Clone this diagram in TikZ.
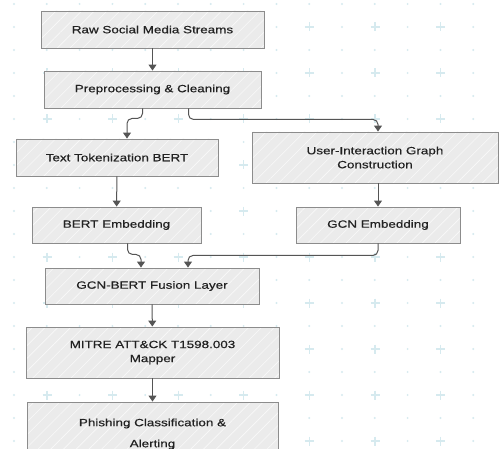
\documentclass[tikz,border=0pt]{standalone}
\usepackage{fontspec}
\setmainfont{Liberation Sans}[FakeStretch=1.28, FakeBold=0.5]
\usetikzlibrary{arrows.meta,patterns.meta}

\definecolor{boxfill}{HTML}{EBEBEB}
\definecolor{boxline}{HTML}{8C8C8C}
\definecolor{hatch}{HTML}{F9F9F9}
\definecolor{arrowgray}{HTML}{555555}
\definecolor{gridblue}{HTML}{D6EAEF}
\definecolor{inktext}{HTML}{222222}

\tikzset{
  stage/.style={draw=boxline, line width=0.9pt, preaction={fill=boxfill},
    pattern={Lines[angle=45,distance=9pt,line width=0.6pt]}, pattern color=hatch,
    align=center, inner sep=2pt, text=inktext,
    font=\fontsize{10.5}{14}\selectfont},
  flow/.style={draw=arrowgray, line width=1pt, rounded corners=5pt,
    -{Triangle[length=6pt,width=8pt]}},
}

\begin{document}
\begin{tikzpicture}[x=1pt, y=-1pt]
\clip (0,0) rectangle (500,449);
\fill[white] (0,0) rectangle (500,449);

% dot grid
\foreach \j in {0,...,19}
  \foreach \i in {0,...,14}
    \fill[gridblue] (14+32.8*\i, 4+23*\j) circle (1.1pt);
% plus marks
\foreach \j in {0,...,9}
  \foreach \i in {0,...,6}
    \draw[gridblue, line width=1.2pt] (47+65.6*\i, 27+46*\j) ++(-4.5,0) -- ++(9,0) ++(-4.5,-4.5) -- ++(0,9);

% stages
\node[stage, minimum width=223pt, minimum height=37pt] (raw) at (152.5,29.5) {Raw Social Media Streams};
\node[stage, minimum width=217pt, minimum height=37pt] (prep) at (152.5,89.5) {Preprocessing \& Cleaning};
\node[stage, minimum width=202pt, minimum height=37pt] (tok) at (117,157.5) {Text Tokenization BERT};
\node[stage, minimum width=246pt, minimum height=51pt] (graph) at (375,157.5) {User-Interaction Graph\\Construction};
\node[stage, minimum width=169pt, minimum height=36pt] (bert) at (116.5,225) {BERT Embedding};
\node[stage, minimum width=164pt, minimum height=36pt] (gcn) at (378,225) {GCN Embedding};
\node[stage, minimum width=214pt, minimum height=36pt] (fusion) at (152,286) {GCN-BERT Fusion Layer};
\node[stage, minimum width=253pt, minimum height=51pt] (mitre) at (152.5,352.5) {MITRE ATT\&CK T1598.003\\Mapper};
\node[stage, minimum width=251pt, minimum height=64pt] (alert) at (152.5,434) {Phishing Classification \&\\[7pt]Alerting};

% connectors
\draw[flow] (raw) -- (prep);
\draw[flow] ([xshift=-10pt]prep.south) -- ++(0,10) -| ([xshift=10pt]tok.north);
\draw[flow] ([xshift=36pt]prep.south) -- ++(0,11) -| ([xshift=3pt]graph.north);
\draw[flow] (tok) -- (bert);
\draw[flow] (graph.south -| gcn.north) -- (gcn.north);
\draw[flow] ([xshift=11pt]bert.south) -- ++(0,11) -| ([xshift=-11pt]fusion.north);
\draw[flow] (gcn.south) -- ++(0,12) -| ([xshift=36pt]fusion.north);
\draw[flow] (fusion) -- (mitre);
\draw[flow] (mitre) -- (alert);
\end{tikzpicture}
\end{document}
